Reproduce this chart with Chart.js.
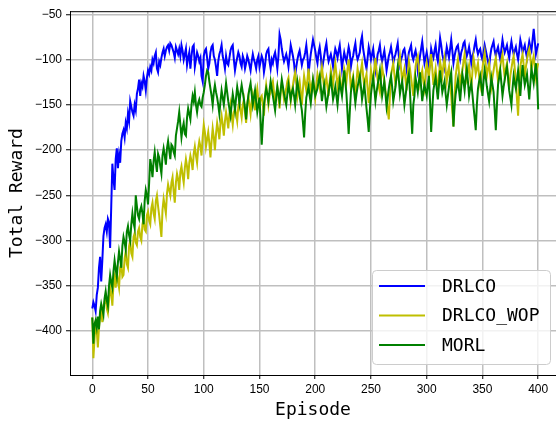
<!DOCTYPE html>
<html>
<head>
<meta charset="utf-8">
<script src="https://cdn.jsdelivr.net/npm/chart.js@4"></script>
<style>
  body { margin: 0; background: #fff; }
</style>
</head>
<body>
<canvas id="reward" width="556" height="422"></canvas>
<script>
// one value per episode, 0..400
var episodes = [];
for (var e = 0; e <= 400; e++) episodes.push(e);

var drlco = [
  -375,-368,-372,-378,-360,-352,-330,-318,-345,-322,-295,-286,-282,-290,-276,-280,-308,-262,-215,-232,
  -244,-210,-198,-220,-205,-214,-190,-182,-178,-186,-170,-176,-160,-168,-146,-152,-158,-162,-150,-156,
  -138,-132,-122,-140,-126,-130,-118,-124,-134,-120,-112,-116,-108,-112,-100,-104,-96,-92,-110,-114,
  -102,-106,-98,-92,-88,-96,-90,-86,-84,-90,-82,-84,-88,-92,-98,-86,-90,-94,-88,-96,
  -84,-90,-100,-94,-88,-106,-98,-92,-110,-96,-86,-84,-108,-100,-92,-96,-102,-98,-118,-124,
  -96,-90,-88,-98,-110,-104,-92,-86,-84,-96,-100,-108,-118,-102,-94,-90,-84,-96,-102,-110,
  -96,-104,-106,-98,-90,-86,-84,-100,-112,-104,-98,-92,-96,-104,-108,-96,-100,-110,-104,-96,
  -100,-106,-112,-102,-94,-100,-104,-110,-100,-96,-108,-102,-96,-100,-114,-106,-94,-90,-88,-102,
  -110,-100,-104,-96,-92,-100,-110,-96,-72,-78,-88,-96,-102,-98,-94,-100,-108,-96,-84,-90,
  -96,-104,-118,-108,-100,-94,-90,-98,-106,-100,-98,-92,-84,-96,-116,-104,-94,-86,-78,-84,
  -90,-98,-104,-92,-86,-96,-112,-104,-96,-88,-82,-94,-102,-98,-94,-100,-108,-96,-88,-92,
  -98,-90,-84,-96,-110,-100,-92,-98,-102,-94,-86,-92,-108,-100,-96,-88,-82,-94,-100,-96,
  -92,-80,-74,-88,-96,-104,-110,-98,-86,-92,-100,-94,-88,-100,-112,-104,-94,-90,-84,-96,
  -102,-96,-90,-100,-112,-104,-96,-92,-86,-94,-104,-98,-94,-88,-82,-96,-106,-100,-96,-90,
  -88,-96,-110,-102,-92,-88,-84,-96,-100,-94,-90,-98,-112,-104,-96,-88,-80,-92,-104,-98,
  -92,-100,-114,-104,-88,-94,-98,-90,-84,-96,-102,-90,-76,-84,-94,-100,-108,-96,-86,-92,
  -98,-88,-78,-90,-104,-96,-90,-86,-84,-94,-100,-92,-88,-82,-80,-90,-96,-92,-86,-94,
  -104,-96,-92,-84,-78,-88,-94,-90,-88,-96,-100,-92,-84,-90,-96,-102,-108,-96,-88,-84,
  -80,-90,-96,-90,-86,-94,-100,-88,-78,-86,-92,-88,-84,-92,-98,-88,-80,-88,-94,-90,
  -86,-94,-100,-90,-78,-84,-92,-88,-84,-92,-98,-88,-80,-86,-90,-78,-66,-80,-94,-88,
  -82];

var drlcoWop = [
  -385,-430,-408,-392,-400,-418,-396,-384,-378,-390,-372,-368,-362,-375,-380,-366,-350,-358,-372,-348,
  -340,-352,-336,-344,-352,-330,-325,-340,-338,-320,-312,-326,-330,-306,-300,-314,-318,-296,-292,-302,
  -305,-290,-286,-296,-300,-282,-276,-288,-290,-272,-268,-278,-282,-264,-258,-270,-276,-256,-250,-262,
  -272,-284,-296,-266,-254,-262,-270,-248,-238,-244,-250,-236,-230,-246,-258,-236,-226,-232,-244,-224,
  -218,-228,-236,-220,-210,-218,-232,-214,-206,-212,-222,-204,-196,-206,-214,-198,-190,-196,-206,-186,
  -172,-180,-196,-188,-180,-192,-208,-190,-176,-186,-200,-182,-170,-178,-188,-170,-162,-172,-184,-168,
  -158,-166,-176,-160,-150,-162,-172,-158,-154,-160,-168,-152,-146,-156,-164,-150,-144,-158,-170,-150,
  -140,-150,-160,-146,-138,-146,-156,-140,-132,-144,-152,-142,-140,-150,-162,-140,-128,-138,-150,-140,
  -136,-128,-124,-136,-148,-138,-130,-142,-154,-136,-126,-134,-144,-138,-132,-124,-120,-132,-146,-136,
  -128,-120,-114,-126,-140,-130,-124,-136,-150,-132,-118,-126,-134,-122,-110,-124,-136,-128,-122,-132,
  -142,-128,-116,-122,-130,-118,-108,-120,-132,-126,-120,-130,-140,-124,-112,-120,-128,-114,-104,-116,
  -130,-122,-116,-128,-138,-122,-110,-116,-124,-110,-100,-116,-132,-124,-118,-130,-140,-124,-110,-118,
  -126,-112,-104,-118,-130,-122,-116,-132,-148,-128,-112,-120,-126,-110,-98,-112,-122,-130,-136,-120,
  -108,-116,-124,-134,-142,-156,-166,-140,-118,-110,-104,-116,-128,-120,-112,-104,-96,-110,-124,-116,
  -110,-122,-134,-116,-102,-110,-120,-130,-140,-122,-108,-100,-96,-110,-126,-118,-112,-124,-132,-116,
  -104,-112,-120,-104,-94,-110,-128,-118,-110,-124,-136,-118,-102,-110,-118,-106,-98,-112,-124,-114,
  -108,-124,-140,-158,-174,-140,-118,-108,-100,-114,-126,-118,-112,-102,-94,-108,-120,-112,-106,-120,
  -132,-114,-98,-106,-116,-110,-104,-118,-128,-118,-110,-100,-92,-106,-118,-110,-104,-118,-130,-120,
  -112,-104,-98,-112,-124,-114,-108,-100,-94,-108,-120,-110,-104,-120,-132,-118,-110,-102,-96,-110,
  -122,-144,-162,-130,-108,-100,-94,-106,-118,-108,-100,-92,-88,-98,-112,-102,-96,-108,-120,-110,
  -104];

var morl = [
  -385,-414,-392,-388,-396,-384,-398,-378,-370,-376,-382,-364,-356,-366,-372,-350,-338,-346,-352,-334,
  -322,-332,-340,-324,-312,-320,-330,-306,-296,-302,-310,-290,-284,-294,-300,-282,-270,-280,-286,-250,
  -262,-272,-276,-266,-262,-270,-282,-256,-244,-250,-260,-236,-210,-218,-230,-212,-202,-214,-224,-204,
  -208,-218,-226,-206,-198,-206,-216,-198,-190,-200,-210,-194,-196,-202,-206,-184,-176,-168,-158,-172,
  -186,-176,-170,-182,-184,-164,-154,-160,-166,-150,-140,-146,-136,-150,-158,-148,-144,-150,-152,-142,
  -136,-128,-118,-112,-114,-124,-132,-140,-150,-136,-128,-136,-142,-150,-160,-146,-134,-142,-150,-138,
  -126,-136,-146,-154,-162,-150,-138,-146,-156,-142,-130,-138,-148,-136,-128,-136,-144,-154,-166,-150,
  -140,-132,-126,-138,-150,-142,-134,-146,-158,-150,-142,-168,-194,-170,-150,-140,-132,-138,-146,-134,
  -124,-132,-140,-148,-156,-142,-130,-138,-146,-134,-122,-130,-138,-144,-150,-138,-128,-136,-144,-136,
  -132,-140,-150,-136,-124,-132,-140,-148,-156,-170,-186,-160,-142,-136,-130,-140,-148,-136,-122,-130,
  -140,-136,-132,-124,-118,-130,-146,-136,-128,-140,-152,-144,-136,-128,-120,-132,-144,-138,-130,-140,
  -150,-136,-124,-132,-140,-126,-112,-124,-138,-160,-182,-158,-136,-128,-122,-136,-148,-138,-130,-124,
  -118,-130,-144,-136,-128,-140,-154,-166,-180,-156,-138,-128,-120,-132,-146,-136,-128,-120,-112,-126,
  -140,-132,-124,-138,-152,-142,-132,-124,-118,-130,-146,-138,-130,-118,-108,-122,-138,-130,-124,-136,
  -150,-140,-130,-122,-116,-136,-160,-182,-150,-140,-120,-128,-136,-124,-114,-130,-146,-136,-128,-134,
  -140,-128,-118,-146,-180,-156,-134,-126,-120,-132,-144,-128,-112,-124,-136,-130,-124,-138,-150,-140,
  -130,-120,-114,-142,-174,-152,-138,-130,-122,-134,-146,-130,-116,-124,-134,-120,-110,-124,-140,-132,
  -126,-138,-152,-164,-178,-150,-132,-124,-118,-128,-140,-124,-112,-120,-130,-138,-146,-132,-120,-128,
  -136,-156,-178,-150,-128,-120,-112,-126,-140,-130,-122,-114,-108,-120,-134,-142,-150,-132,-118,-126,
  -132,-122,-112,-126,-140,-120,-106,-118,-128,-122,-116,-130,-144,-126,-110,-118,-126,-114,-104,-122,
  -155];

var xTicks = [0, 50, 100, 150, 200, 250, 300, 350, 400];
var yTicks = [-400, -350, -300, -250, -200, -150, -100, -50];

function pts(vals) {
  return vals.map(function (v, i) { return { x: episodes[i], y: v }; });
}

var monoFont = "'DejaVu Sans Mono', 'Liberation Mono', monospace";

var boxLegend = {
  id: 'boxLegend',
  afterDraw: function (chart) {
    var ctx = chart.ctx;
    var a = chart.chartArea;
    ctx.save();
    // top spine
    ctx.strokeStyle = '#000';
    ctx.lineWidth = 1;
    ctx.beginPath();
    ctx.moveTo(a.left, a.top + 0.5);
    ctx.lineTo(a.right, a.top + 0.5);
    ctx.stroke();

    var x = 372, y = 270, w = 178, h = 94, r = 4;
    ctx.fillStyle = 'rgba(255,255,255,0.8)';
    ctx.strokeStyle = '#cccccc';
    ctx.beginPath();
    ctx.roundRect(x + 0.5, y + 0.5, w, h, r);
    ctx.fill();
    ctx.stroke();
    ctx.font = '18px ' + monoFont;
    ctx.textBaseline = 'middle';
    chart.data.datasets.forEach(function (ds, i) {
      var ly = 286 + i * 29.5;
      ctx.strokeStyle = ds.borderColor;
      ctx.lineWidth = 2;
      ctx.beginPath();
      ctx.moveTo(379, ly);
      ctx.lineTo(425, ly);
      ctx.stroke();
      ctx.fillStyle = '#000';
      ctx.fillText(ds.label, 442, ly + 1);
    });
    ctx.restore();
  }
};

var ctx = document.getElementById('reward').getContext('2d');
var chart = new Chart(ctx, {
  type: 'line',
  data: {
    datasets: [
      { label: 'DRLCO', data: pts(drlco), borderColor: '#0000ff', order: 3 },
      { label: 'DRLCO_WOP', data: pts(drlcoWop), borderColor: '#bfbf00', order: 2 },
      { label: 'MORL', data: pts(morl), borderColor: '#008000', order: 1 }
    ]
  },
  options: {
    responsive: false,
    animation: false,
    layout: { padding: { top: 8, right: 0, left: 0, bottom: 0 } },
    elements: {
      point: { radius: 0 },
      line: { borderWidth: 2, tension: 0 }
    },
    plugins: {
      legend: { display: false },
      tooltip: { enabled: false }
    },
    scales: {
      x: {
        type: 'linear',
        min: -20,
        max: 416,
        afterBuildTicks: function (s) { s.ticks = xTicks.map(function (v) { return { value: v }; }); },
        afterFit: function (s) { s.height = 47; },
        grid: { color: '#bfbfbf', lineWidth: 1.5, tickLength: 4, tickColor: '#000', tickWidth: 1 },
        border: { color: '#000', width: 1 },
        ticks: {
          color: '#000',
          padding: 3,
          maxRotation: 0,
          font: { family: "'Liberation Sans', Arial, sans-serif", size: 12 }
        },
        title: {
          display: true,
          text: 'Episode',
          color: '#000',
          padding: { top: 0, bottom: 1 },
          font: { family: monoFont, size: 18, lineHeight: 1.2 }
        }
      },
      y: {
        min: -448.5,
        max: -46.5,
        afterBuildTicks: function (s) { s.ticks = yTicks.map(function (v) { return { value: v }; }); },
        afterFit: function (s) { s.width = 70; },
        grid: { color: '#bfbfbf', lineWidth: 1.5, tickLength: 4, tickColor: '#000', tickWidth: 1 },
        border: { color: '#000', width: 1 },
        ticks: {
          color: '#000',
          padding: 4,
          font: { family: "'Liberation Sans', Arial, sans-serif", size: 12 },
          callback: function (v) { return String(v).replace('-', '\u2212'); }
        },
        title: {
          display: true,
          text: 'Total Reward',
          color: '#000',
          padding: { top: 7, bottom: 0 },
          font: { family: monoFont, size: 18, lineHeight: 1.2 }
        }
      }
    }
  },
  plugins: [boxLegend]
});
</script>
</body>
</html>
